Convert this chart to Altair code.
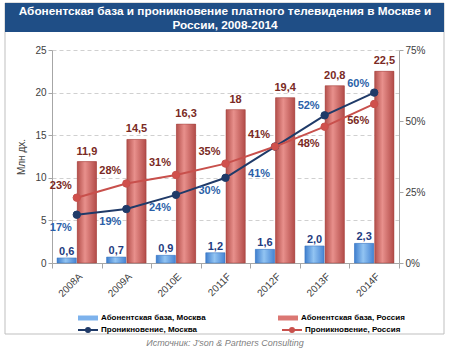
import altair as alt
import pandas as pd

years = ["2008A", "2009A", "2010E", "2011F", "2012F", "2013F", "2014F"]
base_moscow = [0.6, 0.7, 0.9, 1.2, 1.6, 2.0, 2.3]
base_russia = [11.9, 14.5, 16.3, 18, 19.4, 20.8, 22.5]
lab_moscow = ["0,6", "0,7", "0,9", "1,2", "1,6", "2,0", "2,3"]
lab_russia = ["11,9", "14,5", "16,3", "18", "19,4", "20,8", "22,5"]
pen_moscow = [17, 19, 24, 30, 41, 52, 60]
pen_russia = [23, 28, 31, 35, 41, 48, 56]
side_moscow = ["below", "below", "below", "below", "below2", "above", "above"]
side_russia = ["above", "above", "above", "above", "above", "below", "below"]

TITLE = ["Абонентская база и проникновение платного телевидения в Москве и",
         "России, 2008-2014"]
SOURCE = "Источник: J'son & Partners Consulting"

S_BM = "Абонентская база, Москва"
S_BR = "Абонентская база, Россия"
S_PM = "Проникновение, Москва"
S_PR = "Проникновение, Россия"

bars = pd.DataFrame(
    [{"year": y, "series": S_BM, "value": v, "label": l} for y, v, l in zip(years, base_moscow, lab_moscow)]
    + [{"year": y, "series": S_BR, "value": v, "label": l} for y, v, l in zip(years, base_russia, lab_russia)]
)
pens = pd.DataFrame(
    [{"year": y, "series": S_PM, "pct": p / 100, "label": f"{p}%", "side": s} for y, p, s in zip(years, pen_moscow, side_moscow)]
    + [{"year": y, "series": S_PR, "pct": p / 100, "label": f"{p}%", "side": s} for y, p, s in zip(years, pen_russia, side_russia)]
)

FONT = "Liberation Sans"
AX = "#404040"
GRID = "#D0D0D0"

X = alt.X("year:N", sort=years,
          scale=alt.Scale(domain=years, paddingInner=0, paddingOuter=0),
          axis=alt.Axis(title=None, labelAngle=-45, labelFontSize=10, tickBand="extent",
                        tickSize=5, labelPadding=3))
XO = alt.XOffset("series:N", scale=alt.Scale(domain=[S_BM, S_BR], paddingInner=0.05, paddingOuter=0.25))
YL = alt.Y("value:Q", scale=alt.Scale(domain=[0, 25]),
           axis=alt.Axis(title="Млн дх.", values=[0, 5, 10, 15, 20, 25], grid=True,
                         gridDash=[4, 3], gridColor=GRID, titleFontWeight="normal",
                         titleFontSize=10, titleColor=AX, titlePadding=8, titleFont=FONT))
YR = alt.Y("pct:Q", scale=alt.Scale(domain=[0, 0.75]),
           axis=alt.Axis(title=None, orient="right", values=[0, 0.25, 0.5, 0.75], format=".0%",
                         grid=False))

red_grad = alt.Gradient(gradient="linear", x1=0, x2=1, y1=0, y2=0,
                        stops=[alt.GradientStop(offset=0, color="#B4504C"),
                               alt.GradientStop(offset=0.4, color="#E8908C"),
                               alt.GradientStop(offset=1, color="#B24B48")])
blue_grad = alt.Gradient(gradient="linear", x1=0, x2=1, y1=0, y2=0,
                         stops=[alt.GradientStop(offset=0, color="#3E7ECE"),
                                alt.GradientStop(offset=0.45, color="#92C4F2"),
                                alt.GradientStop(offset=1, color="#4584D4")])

bar_base = alt.Chart(bars).mark_bar().encode(
    x=X, xOffset=XO, y=YL,
    fill=alt.Fill("series:N", scale=alt.Scale(domain=[S_BM, S_BR], range=["#7DB2EC", "#DB7773"]),
                  legend=alt.Legend(title=None, orient="none", legendX=25, legendY=257,
                                    direction="horizontal", columnPadding=71,
                                    symbolType="M-1,-0.25H1V0.25H-1Z", symbolSize=400,
                                    labelFont=FONT, labelFontSize=8, labelFontWeight="bold",
                                    labelColor="#000000", labelOffset=2)),
)
bar_m = alt.Chart(bars).transform_filter(alt.datum.series == S_BM).mark_bar(
    color=blue_grad, stroke="#3A74BE", strokeWidth=0.5).encode(x=X, xOffset=XO, y=YL)
bar_r = alt.Chart(bars).transform_filter(alt.datum.series == S_BR).mark_bar(
    color=red_grad, stroke="#9E403D", strokeWidth=0.5).encode(x=X, xOffset=XO, y=YL)
txt_m = alt.Chart(bars).transform_filter(alt.datum.series == S_BM).mark_text(
    font=FONT, fontSize=11, fontWeight="bold", color="#1F3C80", baseline="bottom", dy=-1
).encode(x=X, xOffset=XO, y=YL, text="label:N")
txt_r = alt.Chart(bars).transform_filter(alt.datum.series == S_BR).mark_text(
    font=FONT, fontSize=11, fontWeight="bold", color="#7A2A24", baseline="bottom", dy=-5
).encode(x=X, xOffset=XO, y=YL, text="label:N")

left = alt.layer(bar_base, bar_m, bar_r, txt_m, txt_r)

line_colors = {S_PM: "#1F3A68", S_PR: "#C8504C"}
point_fill = {S_PM: "#1F3A68", S_PR: "#D0504C"}
label_colors = {S_PM: "#2B5FA8", S_PR: "#7A2A24"}
dys = {
    S_PM: {"above": -9, "below": 13, "below2": 27},
    S_PR: {"above": -12, "below": 17},
}

lines = alt.Chart(pens).mark_line(strokeWidth=2).encode(
    x=X, y=YR,
    stroke=alt.Stroke("series:N", scale=alt.Scale(domain=[S_PM, S_PR], range=[line_colors[S_PM], line_colors[S_PR]]),
                      legend=alt.Legend(title=None, orient="none", legendX=25, legendY=269,
                                        direction="horizontal", columnPadding=80,
                                        symbolType="M-1,0H1M-0.2,0A0.2,0.2,0,1,1,0.2,0A0.2,0.2,0,1,1,-0.2,0",
                                        symbolSize=400, symbolStrokeWidth=2,
                                        labelFont=FONT, labelFontSize=8, labelFontWeight="bold",
                                        labelColor="#000000", labelOffset=2)),
)
right_layers = [lines]
for s in [S_PM, S_PR]:
    right_layers.append(
        alt.Chart(pens).transform_filter(alt.datum.series == s).mark_circle(
            size=55, opacity=1, color=point_fill[s], stroke=line_colors[s], strokeWidth=1
        ).encode(x=X, y=YR))
for s in [S_PM, S_PR]:
    for side, dy in dys[s].items():
        right_layers.append(
            alt.Chart(pens).transform_filter(
                (alt.datum.series == s) & (alt.datum.side == side)
            ).mark_text(font=FONT, fontSize=11, fontWeight="bold", color=label_colors[s],
                        dx=-16, dy=dy).encode(x=X, y=YR, text="label:N"))
right = alt.layer(*right_layers)

one = pd.DataFrame({"k": [0]})
frame = alt.Chart(one).mark_rect(
    fill="transparent", stroke="#BFBFBF", strokeWidth=1
).encode(x=alt.value(-47), x2=alt.value(392), y=alt.value(-47), y2=alt.value(284))
title_bar = alt.Chart(one).mark_rect(
    fill="#1F4E86"
).encode(x=alt.value(-47), x2=alt.value(392), y=alt.value(-47), y2=alt.value(-18))
title_txt = alt.Chart(one).mark_text(
    font=FONT, fontSize=11.8, fontWeight="bold", color="white", baseline="top",
    align="center", lineHeight=14
).encode(x=alt.value(173), y=alt.value(-44), text=alt.value(TITLE))
source = alt.Chart(one).mark_text(
    font=FONT, fontSize=9, fontStyle="italic", color="#7F7F7F"
).encode(x=alt.value(173), y=alt.value(293), text=alt.value(SOURCE))

chart = alt.layer(frame, title_bar, left, right, title_txt, source).resolve_scale(
    y="independent", fill="independent", stroke="independent"
).properties(
    width=347, height=213,
    autosize=alt.AutoSizeParams(type="none"),
    padding={"left": 52, "top": 50, "right": 51, "bottom": 85},
).configure_view(stroke=None).configure_axis(
    labelFont=FONT, labelFontSize=10, labelColor=AX, domainColor="#A6A6A6",
    tickColor="#A6A6A6", tickSize=4
)

chart.save("out.html", embed_options={"renderer": "svg", "actions": False})
